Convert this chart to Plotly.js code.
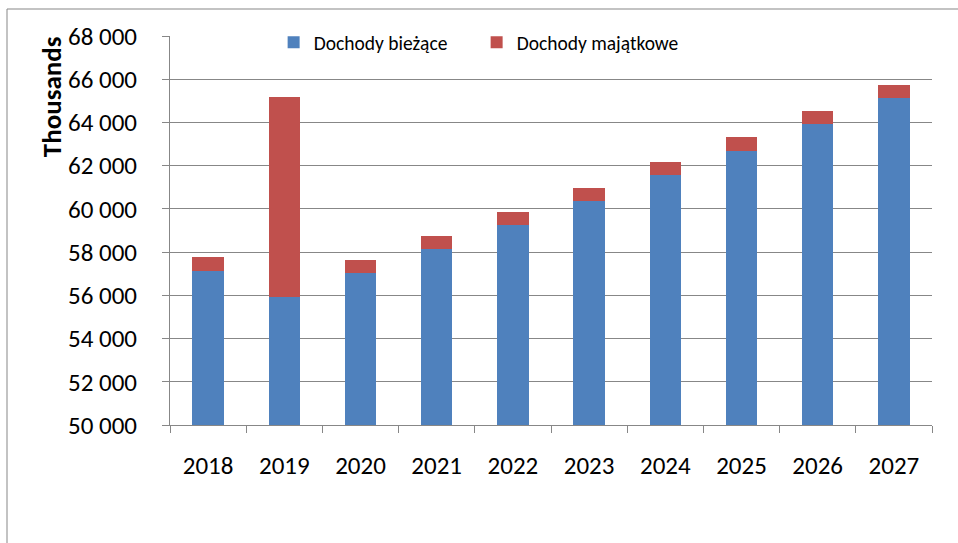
<!DOCTYPE html>
<html>
<head>
<meta charset="utf-8">
<script src="https://cdn.plot.ly/plotly-3.0.1.min.js"></script>
<style>
  html, body { margin: 0; padding: 0; background: #fff; }
  #chart { width: 958px; height: 543px; }
</style>
</head>
<body>
<div id="chart"></div>
<script>
// Years on the x axis
const years = ['2018', '2019', '2020', '2021', '2022', '2023', '2024', '2025', '2026', '2027'];

// Current revenues (thousands)
const dochodyBiezace = [57110, 55910, 57020, 58130, 59240, 60350, 61550, 62700, 63950, 65150];

// Property revenues (thousands), stacked on top
const dochodyMajatkowe = [650, 9290, 600, 600, 600, 600, 600, 615, 600, 600];

const yTicks = [50000, 52000, 54000, 56000, 58000, 60000, 62000, 64000, 66000, 68000];

const fontFam = 'Carlito, Calibri, "Liberation Sans", Arial, sans-serif';
const gridCol = '#878787';

window.onload = function () {
	Plotly.newPlot('chart', [{
		x: years,
		y: dochodyBiezace,
		name: 'Dochody bieżące',
		type: 'bar',
		marker: { color: '#4F81BD' }
	}, {
		x: years,
		y: dochodyMajatkowe,
		name: 'Dochody majątkowe',
		type: 'bar',
		marker: { color: '#C0504D' }
	}], {
		width: 958,
		height: 543,
		barmode: 'stack',
		bargap: 0.59,
		margin: { l: 170, r: 26, t: 36, b: 118 },
		paper_bgcolor: '#fff',
		plot_bgcolor: '#fff',
		font: { family: fontFam, color: '#000' },
		showlegend: true,
		legend: {
			orientation: 'h',
			x: 0.136, y: 1.033,
			xanchor: 'left', yanchor: 'top',
			bgcolor: 'rgba(0,0,0,0)',
			font: { size: 19.5 },
			entrywidth: 158,
			traceorder: 'normal'
		},
		xaxis: {
			type: 'category',
			showline: true,
			linecolor: gridCol,
			ticks: 'outside',
			tickson: 'boundaries',
			ticklen: 7,
			tickcolor: gridCol,
			tickfont: { size: 25 },
			ticklabelstandoff: 18,
			showgrid: false,
			zeroline: false
		},
		yaxis: {
			range: [50000, 68000],
			tickvals: yTicks,
			ticktext: yTicks.map(v => (v / 1000) + ' 000'),
			showline: true,
			linecolor: gridCol,
			ticks: 'outside',
			ticklen: 7,
			tickcolor: gridCol,
			tickfont: { size: 25 },
			ticklabelstandoff: 20,
			showgrid: true,
			gridcolor: gridCol,
			gridwidth: 1,
			zeroline: false,
			fixedrange: true
		},
		annotations: [{
			text: '<b>Thousands</b>',
			textangle: -90,
			xref: 'paper', yref: 'paper',
			x: -0.156, y: 0.843,
			xanchor: 'center', yanchor: 'middle',
			showarrow: false,
			font: { size: 27, family: fontFam }
		}],
		shapes: [{
			type: 'rect',
			xref: 'paper', yref: 'paper',
			x0: -0.2139, x1: 1.2,
			y0: -0.5, y1: 1.0694,
			line: { color: '#878787', width: 1 },
			fillcolor: 'rgba(0,0,0,0)',
			layer: 'below'
		}]
	}, { displayModeBar: false, staticPlot: true });
};
</script>
</body>
</html>
